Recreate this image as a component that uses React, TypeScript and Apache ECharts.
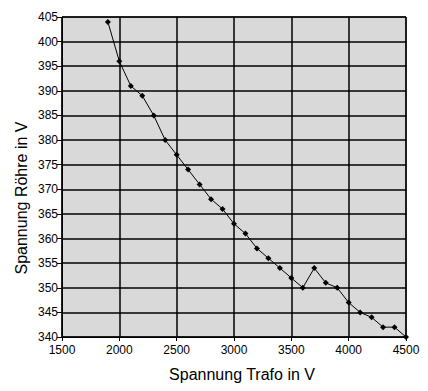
import React, { useEffect, useRef } from "react";
import * as echarts from "echarts";

const trafoV = [1900, 2000, 2100, 2200, 2300, 2400, 2500, 2600, 2700, 2800, 2900, 3000, 3100, 3200, 3300, 3400, 3500, 3600, 3700, 3800, 3900, 4000, 4100, 4200, 4300, 4400, 4500];
const roehreV = [404, 396, 391, 389, 385, 380, 377, 374, 371, 368, 366, 363, 361, 358, 356, 354, 352, 350, 354, 351, 350, 347, 345, 344, 342, 342, 340];
const xTitle = "Spannung Trafo in V";
const yTitle = "Spannung Röhre in V";

export default function App() {
  const ref = useRef<HTMLDivElement>(null);
  useEffect(() => {
    if (!ref.current) return;
    const chart = echarts.init(ref.current, undefined, { renderer: "svg" });
    const font = "Liberation Sans, Arial, sans-serif";
    chart.setOption({
      animation: false,
      backgroundColor: "#ffffff",
      grid: { left: 62, right: 22, top: 17, bottom: 54, show: true, backgroundColor: "#d9d9d9", borderColor: "#000", borderWidth: 1 },
      xAxis: {
        type: "value",
        min: 1500,
        max: 4500,
        interval: 500,
        axisLine: { show: true, onZero: false, lineStyle: { color: "#000", width: 1 } },
        axisTick: { show: true, inside: false, length: 4, lineStyle: { color: "#000" } },
        axisLabel: { color: "#000", fontSize: 12, fontFamily: font, margin: 7, formatter: (v: number) => String(v) },
        splitLine: { show: true, lineStyle: { color: "#000", width: 1.5 } },
      },
      yAxis: {
        type: "value",
        min: 340,
        max: 405,
        interval: 5,
        axisLine: { show: true, onZero: false, lineStyle: { color: "#000", width: 1 } },
        axisTick: { show: true, inside: false, length: 5, lineStyle: { color: "#000" } },
        axisLabel: { color: "#000", fontSize: 12, fontFamily: font, margin: 4, formatter: (v: number) => String(v) },
        splitLine: { show: true, lineStyle: { color: "#000", width: 1.5 } },
      },
      graphic: [
        { type: "text", x: 242, y: 374, style: { text: xTitle, fontSize: 16, fontFamily: font, fill: "#000", align: "center", verticalAlign: "middle" } },
        { type: "text", x: 21, y: 198, rotation: Math.PI / 2, style: { text: yTitle, fontSize: 16, fontFamily: font, fill: "#000", align: "center", verticalAlign: "middle" } },
      ],
      series: [
        {
          type: "line",
          data: trafoV.map((x, i) => [x, roehreV[i]]),
          symbol: "diamond",
          symbolSize: 6,
          itemStyle: { color: "#000" },
          lineStyle: { color: "#000", width: 1 },
        },
      ],
    });
    return () => chart.dispose();
  }, []);
  return <div ref={ref} style={{ width: 428, height: 391, position: "absolute", left: 0, top: 0 }} />;
}
